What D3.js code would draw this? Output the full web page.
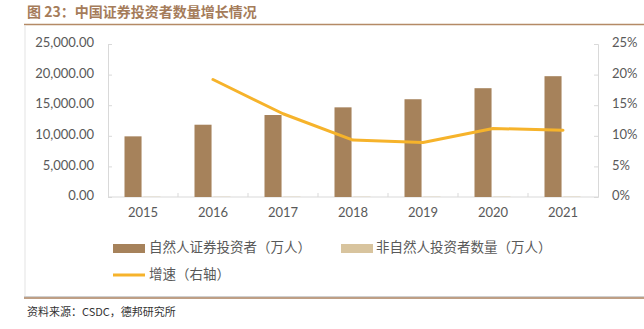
<!DOCTYPE html>
<html>
<head>
<meta charset="utf-8">
<script src="https://cdn.jsdelivr.net/npm/d3@7/dist/d3.min.js"></script>
<style>
  html, body { margin: 0; padding: 0; background: #fff; }
  svg { display: block; }
</style>
</head>
<body>
<svg id="chart" width="644" height="329"></svg>
<script>
// Investor counts (10k persons) and growth rate by year
const years = ["2015", "2016", "2017", "2018", "2019", "2020", "2021"];
const naturalInvestors = [9910, 11811, 13398, 14650, 15975, 17777, 19740];
const institutionalInvestors = [37, 39, 40, 41, 42, 45, 51];
const growthRate = [null, 19.2, 13.6, 9.3, 8.9, 11.2, 10.9];
const leftTicks = [0, 5000, 10000, 15000, 20000, 25000];
const rightTicks = [0, 5, 10, 15, 20, 25];

const seriesNames = ["自然人证券投资者（万人）", "非自然人投资者数量（万人）", "增速（右轴）"];
const colors = { natural: "#a6825b", inst: "#d8c49e", growth: "#f6b32b" };

const svg = d3.select("#chart");
const latin = "Lato, 'Open Sans', sans-serif";
const cjk = "'Noto Sans CJK SC', sans-serif";

// Page frame: title, rules, source note
svg.append("text")
  .attr("x", 27).attr("y", 13)
  .attr("dominant-baseline", "middle")
  .attr("font-family", cjk).attr("font-size", 14).attr("font-weight", "bold")
  .attr("fill", "#a57c5a")
  .text("图 23：中国证券投资者数量增长情况");

svg.append("line").attr("x1", 24).attr("x2", 644).attr("y1", 24.5).attr("y2", 24.5)
  .attr("stroke", "#b48a66").attr("stroke-width", 1.5);
svg.append("line").attr("x1", 25).attr("x2", 25).attr("y1", 25).attr("y2", 297)
  .attr("stroke", "#e3e3e3").attr("stroke-width", 1);
svg.append("line").attr("x1", 24).attr("x2", 644).attr("y1", 296.5).attr("y2", 296.5)
  .attr("stroke", "#d0d0d0").attr("stroke-width", 1);
svg.append("line").attr("x1", 24).attr("x2", 644).attr("y1", 298).attr("y2", 298)
  .attr("stroke", "#a87f5d").attr("stroke-width", 1.5);

svg.append("text")
  .attr("x", 27).attr("y", 313)
  .attr("dominant-baseline", "middle")
  .attr("font-family", cjk).attr("font-size", 11)
  .attr("fill", "#333")
  .text("资料来源：CSDC，德邦研究所");

// Plot area
const plotLeft = 108, plotRight = 598, plotTop = 44, plotBottom = 197;

const x0 = d3.scaleBand().domain(years).range([plotLeft, plotRight]).paddingInner(0).paddingOuter(0);
const x1 = d3.scaleBand().domain(["natural", "inst"]).range([0, 36]).paddingInner(0.1);
const groupOffset = (x0.bandwidth() - 36) / 2 - 0.5;

const yL = d3.scaleLinear().domain([0, 25000]).range([plotBottom, plotTop]);
const yR = d3.scaleLinear().domain([0, 25]).range([plotBottom, plotTop]);

const axisColor = "#d9d9d9";
const labelColor = "#595959";

// Left axis
const gL = svg.append("g").attr("transform", `translate(${plotLeft},0)`)
  .call(d3.axisRight(yL).tickValues(leftTicks).tickSize(4).tickFormat(() => ""));
gL.select(".domain").attr("stroke", axisColor);
gL.selectAll(".tick line").attr("stroke", axisColor);
svg.append("g").selectAll("text").data(leftTicks).join("text")
  .attr("x", 94).attr("y", d => yL(d))
  .attr("text-anchor", "end").attr("dominant-baseline", "middle")
  .attr("font-family", latin).attr("font-size", 13).attr("fill", labelColor)
  .text(d => d3.format(",.2f")(d));

// Right axis
const gR = svg.append("g").attr("transform", `translate(${plotRight},0)`)
  .call(d3.axisLeft(yR).tickValues(rightTicks).tickSize(4).tickFormat(() => ""));
gR.select(".domain").attr("stroke", axisColor);
gR.selectAll(".tick line").attr("stroke", axisColor);
svg.append("g").selectAll("text").data(rightTicks).join("text")
  .attr("x", 612).attr("y", d => yR(d))
  .attr("text-anchor", "start").attr("dominant-baseline", "middle")
  .attr("font-family", latin).attr("font-size", 13).attr("fill", labelColor)
  .text(d => d + "%");

// Bottom axis: ticks between categories, pointing up
const gX = svg.append("g").attr("transform", `translate(0,${plotBottom})`);
gX.append("line").attr("x1", plotLeft).attr("x2", plotRight).attr("y1", 0).attr("y2", 0)
  .attr("stroke", axisColor);
gX.selectAll("line.sep").data(years.slice(1)).join("line").attr("class", "sep")
  .attr("x1", d => x0(d)).attr("x2", d => x0(d)).attr("y1", 0).attr("y2", -4)
  .attr("stroke", axisColor);
svg.append("g").selectAll("text").data(years).join("text")
  .attr("x", d => x0(d) + x0.bandwidth() / 2).attr("y", 214)
  .attr("text-anchor", "middle").attr("dominant-baseline", "middle")
  .attr("font-family", latin).attr("font-size", 13).attr("fill", labelColor)
  .text(d => d);

// Bars
const rows = years.map((y, i) => ({ year: y, natural: naturalInvestors[i], inst: institutionalInvestors[i] }));
const groups = svg.append("g").selectAll("g").data(rows).join("g")
  .attr("transform", d => `translate(${x0(d.year) + groupOffset},0)`);
groups.selectAll("rect").data(d => ["natural", "inst"].map(k => ({ key: k, value: d[k] }))).join("rect")
  .attr("x", d => x1(d.key)).attr("width", x1.bandwidth())
  .attr("y", d => yL(d.value)).attr("height", d => plotBottom - yL(d.value))
  .attr("fill", d => colors[d.key]);

// Growth line on right axis
const line = d3.line()
  .defined(d => d.g != null)
  .x(d => x0(d.year) + x0.bandwidth() / 2)
  .y(d => yR(d.g));
svg.append("path")
  .datum(years.map((y, i) => ({ year: y, g: growthRate[i] })))
  .attr("d", line)
  .attr("fill", "none").attr("stroke", colors.growth).attr("stroke-width", 3)
  .attr("stroke-linejoin", "round").attr("stroke-linecap", "round");

// Legend
const lg = svg.append("g").attr("font-family", cjk).attr("font-size", 13.5).attr("fill", labelColor);
lg.append("rect").attr("x", 113).attr("y", 244).attr("width", 32).attr("height", 9).attr("fill", colors.natural);
lg.append("text").attr("x", 149).attr("y", 248.5).attr("dominant-baseline", "middle").text(seriesNames[0]);
lg.append("rect").attr("x", 341).attr("y", 244).attr("width", 32).attr("height", 9).attr("fill", colors.inst);
lg.append("text").attr("x", 376).attr("y", 248.5).attr("dominant-baseline", "middle").text(seriesNames[1]);
lg.append("line").attr("x1", 113).attr("x2", 145).attr("y1", 275).attr("y2", 275)
  .attr("stroke", colors.growth).attr("stroke-width", 3);
lg.append("text").attr("x", 149).attr("y", 275.5).attr("dominant-baseline", "middle").text(seriesNames[2]);
</script>
</body>
</html>
